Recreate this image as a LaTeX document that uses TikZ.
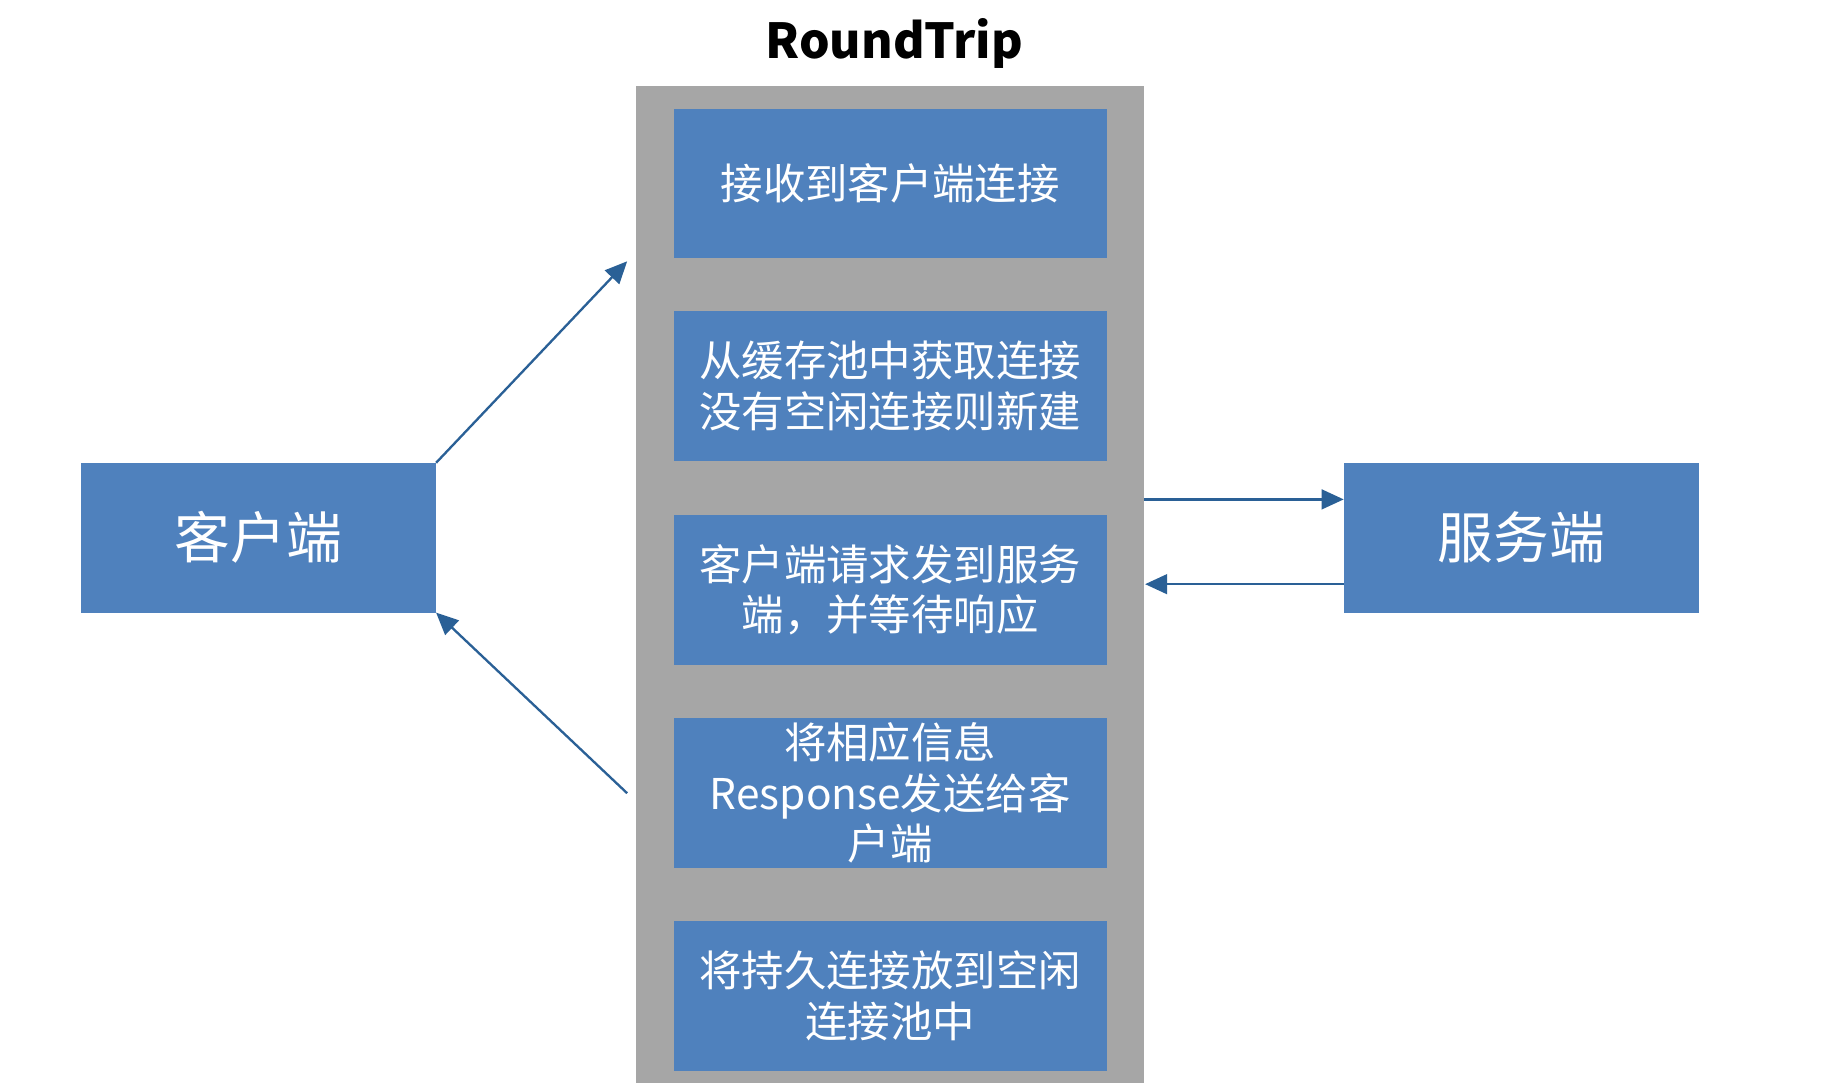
\documentclass[tikz,border=0pt]{standalone}
\usepackage{fontspec}
\newfontfamily\cjk{Noto Sans CJK SC}
\usetikzlibrary{arrows.meta}
\definecolor{boxblue}{HTML}{4F81BD}
\definecolor{poolgray}{HTML}{A6A6A6}
\definecolor{arrowblue}{HTML}{2A6096}
\tikzset{
  stepbox/.style={fill=boxblue, draw=none, inner sep=0pt, outer sep=0pt,
    minimum width=373pt, minimum height=129pt, text=white, align=center,
    font=\cjk\fontsize{36.5}{43.5}\selectfont},
  endbox/.style={fill=boxblue, draw=none, inner sep=0pt, outer sep=0pt,
    minimum width=306pt, minimum height=129pt, text=white, align=center,
    font=\cjk\fontsize{48}{56}\selectfont},
  conn/.style={draw=arrowblue, line width=2pt,
    -{Triangle[length=19pt, width=17pt]}}
}
\begin{document}
\begin{tikzpicture}[x=1pt, y=-1pt]
\useasboundingbox[fill=white] (0,0) rectangle (1568,932);
% pool
\node[fill=poolgray, draw=none, inner sep=0pt, outer sep=0pt,
  minimum width=437pt, minimum height=880pt, anchor=north] (pool) at (766.5,74) {};
\node[font=\cjk\bfseries\fontsize{41.5}{48}\selectfont] (title) at (770,37) {RoundTrip};
% steps
\node[stepbox] (s1) at (766.5,158) {接收到客户端连接};
\node[stepbox] (s2) at (766.5,332.5) {从缓存池中获取连接\\没有空闲连接则新建};
\node[stepbox] (s3) at (766.5,508) {客户端请求发到服务\\端，并等待响应};
\node[stepbox] (s4) at (766.5,683) {将相应信息\\Response发送给客\\户端};
\node[stepbox] (s5) at (766.5,857.5) {将持久连接放到空闲\\连接池中};
% ends
\node[endbox] (client) at (222.5,463) {客户端};
\node[endbox] (server) at (1310,463) {服务端};
% free ends
\coordinate (upend) at (540,225);
\coordinate (downstart) at (540,683);
\coordinate (toserverstart) at (985,430);
\coordinate (fromserverend) at (986,503);
% connectors
\draw[conn] (client.north east) -- (upend);
\draw[conn] (downstart) -- (client.south east);
\draw[conn] (toserverstart) -- (server.west |- toserverstart);
\draw[conn] (server.west |- fromserverend) -- (fromserverend);
\end{tikzpicture}
\end{document}
